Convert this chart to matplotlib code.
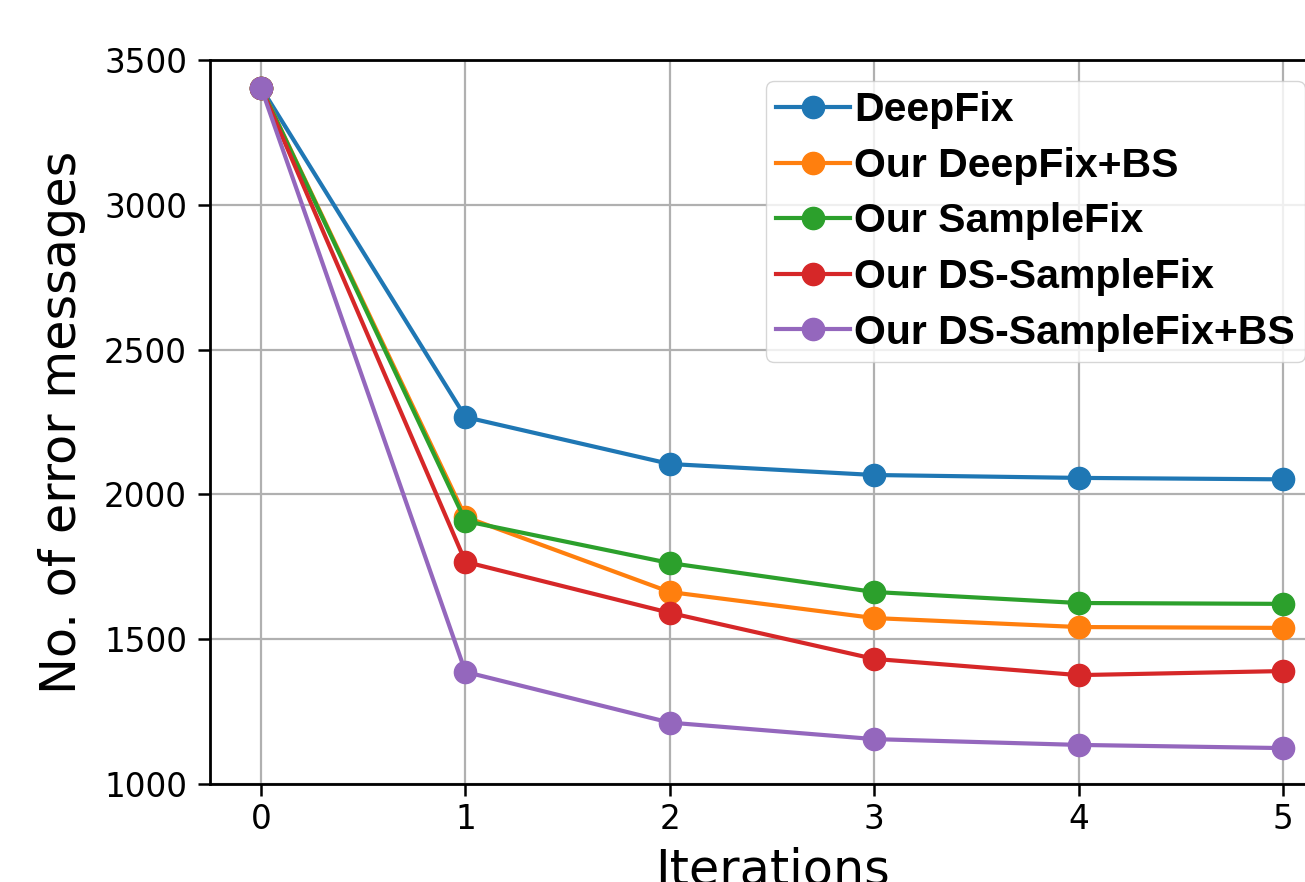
import matplotlib
matplotlib.use("Agg")
import matplotlib.pyplot as plt

iterations = [0, 1, 2, 3, 4, 5]
deepfix = [3405, 2267, 2105, 2067, 2057, 2052]
deepfix_bs = [3405, 1922, 1663, 1573, 1542, 1539]
samplefix = [3405, 1908, 1763, 1663, 1625, 1622]
ds_samplefix = [3405, 1767, 1591, 1432, 1376, 1390]
ds_samplefix_bs = [3405, 1387, 1212, 1155, 1135, 1124]

labels = ["DeepFix", "Our DeepFix+BS", "Our SampleFix", "Our DS-SampleFix", "Our DS-SampleFix+BS"]
series = [deepfix, deepfix_bs, samplefix, ds_samplefix, ds_samplefix_bs]
colors = ["#1f77b4", "#ff7f0e", "#2ca02c", "#d62728", "#9467bd"]

W, H = 1305, 882
fig = plt.figure(figsize=(W / 100, H / 100), dpi=100)
ax = fig.add_axes([210 / W, 1 - 784 / H, (1334 - 210) / W, (784 - 60) / H])

for vals, lab, c in zip(series, labels, colors):
    ax.plot(iterations, vals, marker="o", color=c, label=lab, linewidth=3, markersize=16)

ax.set_ylim(1000, 3500)
ax.set_yticks([1000, 1500, 2000, 2500, 3000, 3500])
ax.set_xticks(iterations)
ax.grid(True, color="#b0b0b0", linewidth=1.6)
ax.set_axisbelow(True)
for s in ax.spines.values():
    s.set_linewidth(2)
ax.tick_params(labelsize=23.5, length=8.5, width=1.8)
ax.tick_params(axis="x", pad=5)
ax.tick_params(axis="y", pad=8)
ax.set_ylabel("No. of error messages", fontsize=35.5, labelpad=13)
ax.set_xlabel("Iterations", fontsize=35.5, labelpad=8)

leg = ax.legend(loc="upper left", bbox_to_anchor=(766 / W, 1 - 81 / H), bbox_transform=fig.transFigure,
                borderaxespad=0, prop={"family": "Liberation Sans", "weight": "bold", "size": 29.5},
                handlelength=1.8, handletextpad=0.1, borderpad=0.25, labelspacing=0.43)

fig.savefig("out.png", dpi=100)
